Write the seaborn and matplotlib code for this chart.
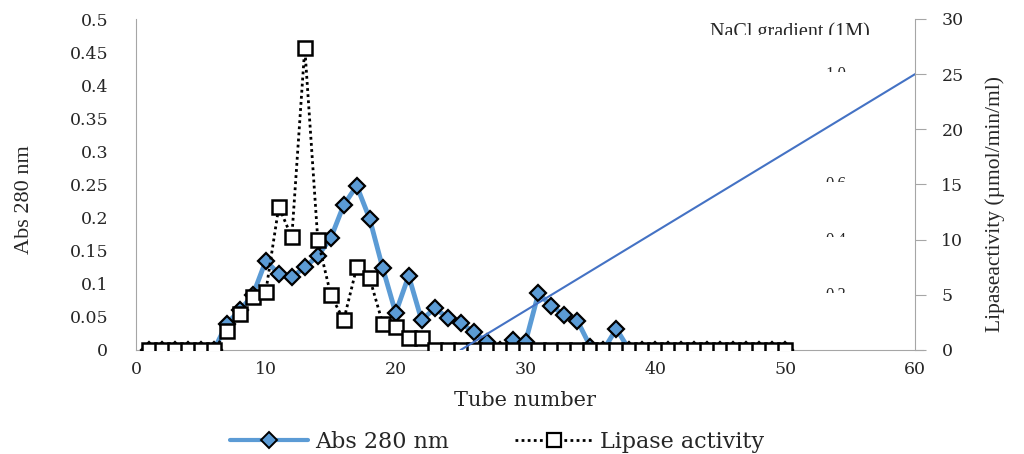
import numpy as np
import pandas as pd
import matplotlib
matplotlib.use("Agg")
import matplotlib.pyplot as plt
import seaborn as sns
from matplotlib.lines import Line2D
from matplotlib.transforms import Bbox, TransformedBbox

tubes = list(range(1, 51))
abs280 = [0, 0, 0, 0, 0, 0, 0.04, 0.06, 0.083, 0.135,
          0.115, 0.11, 0.125, 0.142, 0.169, 0.219, 0.248, 0.198, 0.124, 0.056,
          0.112, 0.045, 0.063, 0.049, 0.041, 0.027, 0.012, 0, 0.015, 0.012,
          0.086, 0.066, 0.053, 0.044, 0.005, 0, 0.032, 0, 0, 0,
          0, 0, 0, 0, 0, 0, 0, 0, 0, 0]
lipase = [0, 0, 0, 0, 0, 0, 1.7, 3.3, 4.8, 5.3,
          13.0, 10.2, 27.4, 10.0, 5.0, 2.7, 7.5, 6.5, 2.4, 2.1,
          1.1, 1.1, 0, 0, 0, 0, 0, 0, 0, 0,
          0, 0, 0, 0, 0, 0, 0, 0, 0, 0,
          0, 0, 0, 0, 0, 0, 0, 0, 0, 0]
grad_x = [25, 60]
grad_y = [0, 1.0]
grad_ticks = [0.2, 0.4, 0.6, 1.0]
grad_labels = ["0.2", "0.4", "0.6", "1.0"]
left_ticks = [0, 0.05, 0.1, 0.15, 0.2, 0.25, 0.3, 0.35, 0.4, 0.45, 0.5]
left_labels = ["0", "0.05", "0.1", "0.15", "0.2", "0.25", "0.3", "0.35", "0.4", "0.45", "0.5"]
right_ticks = [0, 5, 10, 15, 20, 25, 30]
x_ticks = [0, 10, 20, 30, 40, 50, 60]

sns.set_style("white")
plt.rcParams["font.family"] = ["Liberation Serif", "DejaVu Serif"]
wide = ["DejaVu Serif"]

df = pd.DataFrame({"tube": tubes, "abs": abs280, "lip": lipase})
gdf = pd.DataFrame({"x": grad_x, "y": grad_y})

fig = plt.figure(figsize=(10.24, 4.54), dpi=100)
ax = fig.add_axes([136/1024, 1-350/454, 779/1024, 331/454])
ax2 = ax.twinx()
ax3 = ax.twinx()

abs_color = "#5B9BD5"
sns.lineplot(data=df, x="tube", y="abs", ax=ax, color=abs_color, linewidth=3.5,
             marker="D", markersize=8, markerfacecolor=abs_color,
             markeredgecolor="black", markeredgewidth=1.6, zorder=3)
sns.lineplot(data=df, x="tube", y="lip", ax=ax2, color="black", linewidth=2,
             linestyle=(0, (1, 1.2)), marker="s", markersize=10,
             markerfacecolor="white", markeredgecolor="black",
             markeredgewidth=1.8, zorder=4)
sns.lineplot(data=gdf, x="x", y="y", ax=ax3, color="#4472C4", linewidth=1.5, zorder=5)

ax.set_xlim(0, 60)
ax.set_ylim(0, 0.5)
ax2.set_ylim(0, 30)
ax3.set_ylim(0, 1.2)
ax.set_xticks(x_ticks)
ax.set_xticklabels([str(t) for t in x_ticks], fontsize=12.5, family=wide)
ax.set_yticks(left_ticks)
ax.set_yticklabels(left_labels, fontsize=12.5, family=wide)
ax2.set_yticks(right_ticks)
ax2.set_yticklabels([str(t) for t in right_ticks], fontsize=12.5, family=wide)
ax3.set_yticks([])

ax2.set_xlabel("")
ax3.set_xlabel("")
ax3.set_ylabel("")
ax.set_xlabel("Tube number", fontsize=15, labelpad=9, family=wide)
ax.set_ylabel("Abs 280 nm", fontsize=16)
ax.yaxis.set_label_coords((34-136)/779, 0.453)
ax2.set_ylabel("Lipaseactivity (µmol/min/ml)", fontsize=15.5)
ax2.yaxis.set_label_coords((985-136)/779, 0.44)

spine_c = "#A6A6A6"
for a in (ax, ax2, ax3):
    for s in a.spines.values():
        s.set_visible(False)
    a.patch.set_visible(False)
ax.spines["left"].set_visible(True)
ax.spines["left"].set_color(spine_c)
ax.spines["bottom"].set_visible(True)
ax.spines["bottom"].set_color(spine_c)
ax.spines["bottom"].set_bounds(0, 60.6)
ax2.spines["right"].set_visible(True)
ax2.spines["right"].set_color(spine_c)
ax.tick_params(axis="y", length=0, pad=20)
ax.tick_params(axis="x", length=0, pad=8)
ax2.tick_params(axis="y", length=8, color=spine_c, direction="out", pad=11)
ax.set_zorder(1)
ax2.set_zorder(2)
ax3.set_zorder(3)

# gradient axis labels, clipped as in the original
for v, lab in zip(grad_ticks, grad_labels):
    t = ax3.text(53.9, v, lab, ha="center", va="center", fontsize=12, clip_on=True)
    t.set_clip_box(TransformedBbox(Bbox([[50, v + 0.008], [58, v + 0.1]]), ax3.transData))

tn = fig.text(710/1024, 1-32/454, "NaCl gradient (1M)", ha="left", va="center",
              fontsize=14.5, clip_on=True)
tn.set_clip_box(TransformedBbox(Bbox([[0.6, 1-35/454], [0.9, 1.0]]), fig.transFigure))

handles = [Line2D([], [], color=abs_color, linewidth=3, marker="D", markersize=8,
                  markerfacecolor=abs_color, markeredgecolor="black", markeredgewidth=1.4),
           Line2D([], [], color="black", linewidth=2, linestyle=(0, (1, 1.2)), marker="s",
                  markersize=10, markerfacecolor="white", markeredgecolor="black",
                  markeredgewidth=1.6)]
fig.legend(handles, ["Abs 280 nm", "Lipase activity"], loc="center",
           bbox_to_anchor=(497/1024, 1-442/454), ncol=2, frameon=False,
           prop={"family": wide, "size": 16}, handlelength=3.5,
           columnspacing=3.0, handletextpad=0.3)

for a in (ax, ax2, ax3):
    if a.get_legend() is not None:
        a.get_legend().remove()

fig.savefig("out.png", dpi=100)
